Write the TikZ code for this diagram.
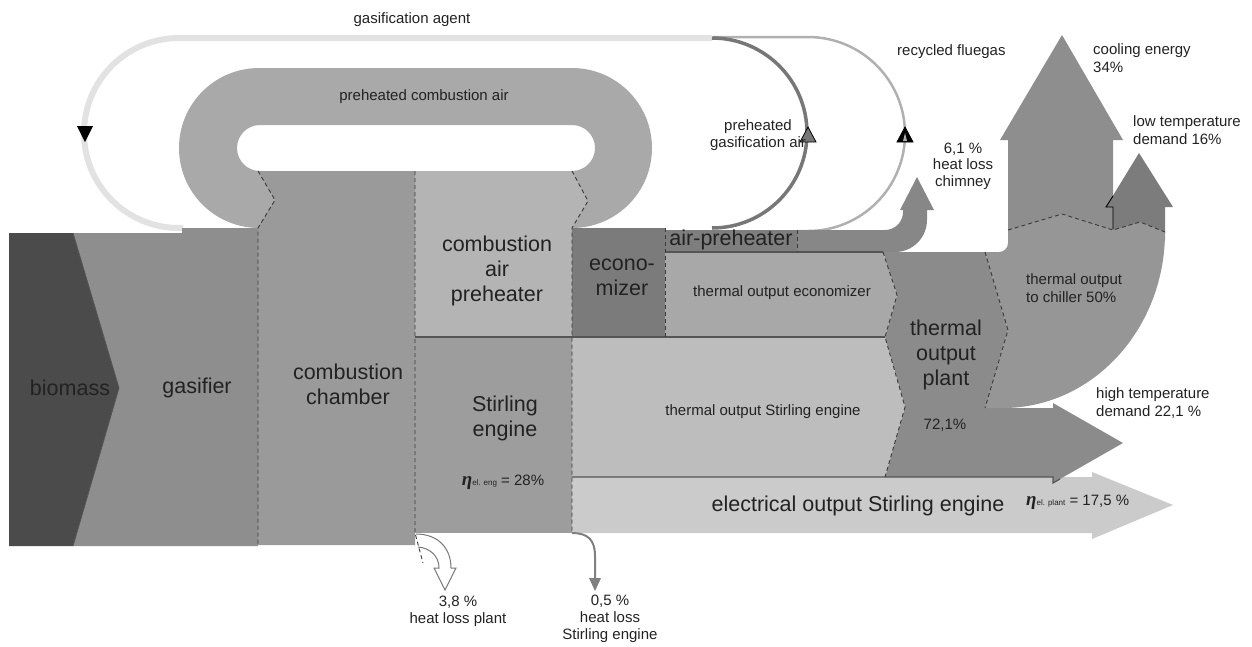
\documentclass[tikz,border=0pt]{standalone}
\usepackage{fontspec}
\setmainfont{Liberation Sans}
\newfontfamily\etafont{Liberation Serif}
\definecolor{txt}{HTML}{222222}
\definecolor{cbio}{HTML}{4B4B4B}
\definecolor{cgas}{HTML}{8E8E8E}
\definecolor{ccc}{HTML}{9A9A9A}
\definecolor{cband}{HTML}{A9A9A9}
\definecolor{ccap}{HTML}{B4B4B4}
\definecolor{cst}{HTML}{9D9D9D}
\definecolor{ceco}{HTML}{7B7B7B}
\definecolor{cteco}{HTML}{A8A8A8}
\definecolor{ctst}{HTML}{BDBDBD}
\definecolor{cel}{HTML}{CBCBCB}
\definecolor{cplant}{HTML}{8B8B8B}
\definecolor{cchill}{HTML}{969696}
\definecolor{ccool}{HTML}{8E8E8E}
\definecolor{clow}{HTML}{7C7C7C}
\definecolor{cflue}{HTML}{878787}
\definecolor{capre}{HTML}{7E7E7E}
\definecolor{cgasag}{HTML}{E2E2E2}
\definecolor{cpga}{HTML}{777777}
\definecolor{crec}{HTML}{B0B0B0}
\definecolor{dline}{HTML}{3A3A3A}
\definecolor{sline}{HTML}{555555}
\newcommand{\myeta}{{\etafont\bfseries\itshape\fontsize{19}{19}\selectfont η}}
\begin{document}
\begin{tikzpicture}[x=1pt,y=-1pt,
  big/.style={font=\fontsize{21.5}{25}\selectfont, text=txt, align=center, inner sep=0pt},
  small/.style={font=\fontsize{15}{17}\selectfont, text=txt, align=center, inner sep=0pt},
  smallleft/.style={font=\fontsize{15}{17.5}\selectfont, text=txt, align=left, inner sep=0pt, anchor=west},
  dsh/.style={draw=dline, dash pattern=on 4pt off 3pt, line width=0.9pt},
  sep/.style={draw=sline, line width=1.2pt}]
\useasboundingbox (0,0) rectangle (1252,646);

% ---------------- loops ----------------
\draw[crec, line width=2.5pt] (713,37) -- (808,37) arc(90:-90:97pt) -- (797,231);
\draw[cgasag, line width=6pt] (183,228) -- (179,228) arc(-90:-270:95pt) -- (712,38);
\draw[cpga, line width=3.5pt] (712,38) arc(90:-90:95pt);
\fill[black] (77,126) -- (93,126) -- (85,142) -- cycle;
\filldraw[fill=cpga, draw=black, line width=0.8pt] (800,142) -- (816,142) -- (808,127) -- cycle;
\filldraw[fill=black, draw=black, line width=0.8pt] (897,142) -- (913,142) -- (905,127) -- cycle;
\fill[crec] (903,141) -- (905,133) -- (907,141) -- cycle;

% preheated combustion air band
\fill[cband, even odd rule] (259,68) -- (572,68) arc(90:-90:80pt) -- (259,228) arc(-90:-270:80pt) -- cycle
  (260,125) -- (572,125) arc(90:-90:23pt) -- (260,171) arc(-90:-270:23pt) -- cycle;

% flue gas band with chimney arrow
\fill[cflue] (797,230) -- (885,230) arc(-90:0:18pt) -- (903,210) -- (900,210) -- (917,177) -- (934,210)
  -- (927,210) -- (927,220) arc(0:-90:32pt) -- (797,252) -- cycle;

% cooling and low temperature arrows
\fill[ccool] (1008,240) -- (1008,140) -- (1000,140) -- (1062,35) -- (1123,140) -- (1113,140) -- (1113,240) -- cycle;
\fill[clow] (1113,240) -- (1113,207) -- (1106,207) -- (1139,153) -- (1173,207) -- (1165,207) -- (1165,240) -- cycle;
\draw[black, line width=0.9pt] (1113,229) -- (1113,207) -- (1106,207) -- (1113,196);

% chiller band
\fill[cchill] (985,252) -- (999,252) arc(-90:0:9pt) -- (1008,230) -- (1062,214) -- (1113,230) -- (1140,222)
  -- (1165,232) arc(0:-90:162pt and 176pt) -- (985,408) -- (1008,330) -- cycle;

% electrical output arrow
\fill[cel] (572,477) -- (1092,477) -- (1092,472) -- (1173,505) -- (1092,539) -- (1092,533) -- (572,533) -- cycle;

% thermal output plant + high temperature arrow
\fill[cplant] (883,252) -- (985,252) -- (1008,330) -- (985,408) -- (1053,408) -- (1053,403) -- (1123,443)
  -- (1053,483) -- (1053,477) -- (885,477) -- (905,407) -- (885,337) -- (897,295) -- cycle;

% thermal outputs
\fill[cteco] (665,252) -- (883,252) -- (897,295) -- (885,337) -- (665,337) -- cycle;
\fill[ctst] (572,337) -- (885,337) -- (905,407) -- (885,477) -- (572,477) -- cycle;

% ---------------- blocks ----------------
\fill[cgas] (73,233) -- (182,233) -- (182,228) -- (258,228) -- (258,546) -- (73,546) -- (119,388) -- cycle;
\fill[cbio] (9,233) -- (73,233) -- (119,388) -- (73,546) -- (9,546) -- cycle;
\fill[ccc] (258,171) -- (275,200) -- (258,228) -- (258,545) -- (415,545) -- (415,171) -- cycle;
\fill[ccap] (415,171) -- (572,171) -- (588,201) -- (572,228) -- (572,337) -- (415,337) -- cycle;
\fill[cst] (415,337) -- (572,337) -- (572,533) -- (415,533) -- cycle;
\fill[ceco] (572,228) -- (665,228) -- (665,337) -- (572,337) -- cycle;
\fill[capre] (665,230) -- (797,230) -- (797,252) -- (665,252) -- cycle;

% ---------------- lines ----------------
\draw[sline, line width=0.8pt] (73,233) -- (119,388) -- (73,546);
\draw[sep] (415,337) -- (885,337);
\draw[sep] (665,252) -- (883,252);
\draw[sep] (572,477) -- (1053,477) -- (1053,483) -- (1060,479);
\draw[dsh] (258,171) -- (275,200) -- (258,228) -- (258,545);
\draw[dsh] (415,171) -- (415,533) -- (423,563);
\draw[dsh] (572,171) -- (588,201) -- (572,228) -- (572,533);
\draw[dsh] (665,228) -- (665,337);
\draw[dsh] (797,230) -- (797,252);
\draw[dsh] (883,252) -- (897,295) -- (885,337) -- (905,407) -- (885,477);
\draw[dsh] (985,252) -- (1008,330) -- (985,408);
\draw[dsh] (1008,230) -- (1062,214) -- (1113,230) -- (1140,222) -- (1165,232);

% heat losses
\draw[cpga, line width=1pt] (416,534) .. controls (438,534) and (451,548) .. (451,568) -- (456,568) -- (445,590)
  -- (434,568) -- (439,568) .. controls (439,556) and (430,548) .. (418,547);
\draw[gray, line width=2pt] (572,533) .. controls (588,533) and (595,540) .. (595,556) -- (595,580);
\fill[gray] (589,578) -- (601,578) -- (595,591) -- cycle;

% ---------------- texts ----------------
\node[small] (tgasag) at (412,20) {gasification agent};
\node[small] (tpca) at (424,97) {preheated combustion air};
\node[small] (tpga) at (758,135) {preheated\\gasification air};
\node[smallleft] (trec) at (897,52) {recycled fluegas};
\node[small, font=\fontsize{15}{16.5}\selectfont] (tchim) at (963,166) {6,1 \%\\heat loss\\chimney};
\node[smallleft] (tcool) at (1093,58) {cooling energy\\34\%};
\node[smallleft] (tlow) at (1133,130) {low temperature\\demand 16\%};
\node[smallleft] (tchill) at (1026,288) {thermal output\\to chiller 50\%};
\node[smallleft] (thigh) at (1096,403) {high temperature\\demand 22,1 \%};
\node[big] (tbio) at (70,388) {biomass};
\node[big] (tgasif) at (197,388) {gasifier};
\node[big] (tcc) at (348,384) {combustion\\chamber};
\node[big] (tcap) at (497,271) {combustion\\air\\preheater};
\node[big] (tst) at (505,418) {Stirling\\engine};
\node[small] (teta1) at (503,482) {\myeta{\fontsize{8}{9}\selectfont el. eng} = 28\%};
\node[big] (teco) at (622,277) {econo-\\mizer};
\node[big] (tapre) at (731,240) {air-preheater};
\node[small] (tteco) at (782,293) {thermal output economizer};
\node[small] (ttst) at (763,412) {thermal output Stirling engine};
\node[big] (tplant) at (946,355) {thermal\\output\\plant};
\node[small] (t721) at (945,425) {72,1\%};
\node[big] (tel) at (858,506) {electrical output Stirling engine};
\node[small, anchor=west] (teta2) at (1026,502) {\myeta{\fontsize{8}{9}\selectfont el. plant} = 17,5 \%};
\node[small] (tloss1) at (458,611) {3,8 \%\\heat loss plant};
\node[small] (tloss2) at (610,619) {0,5 \%\\heat loss\\Stirling engine};
\end{tikzpicture}
\end{document}
